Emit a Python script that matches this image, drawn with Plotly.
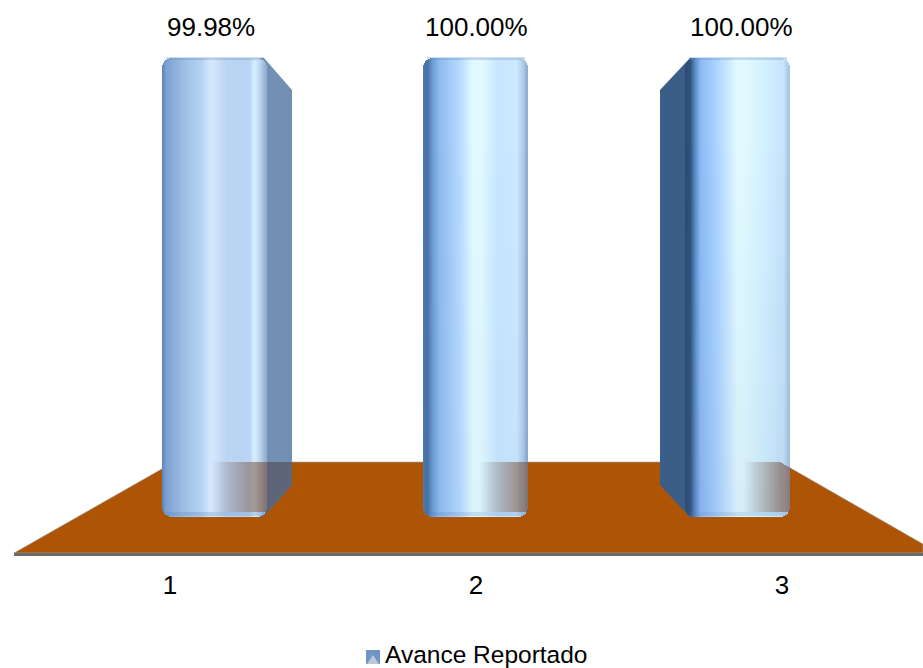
import plotly.graph_objects as go
import numpy as np

categories = ["1", "2", "3"]
values = [99.98, 100.0, 100.0]
series_name = "Avance Reportado"

W, H = 923, 668
L, B_PX = 14, 553      # plot area: left edge and bottom edge, in page pixels
Y0_PX, Y100_PX = 517, 58
PX_PER_VAL = (Y0_PX - Y100_PX) / 100.0
CX = [215, 476, 738]
SPACING = 261.5
BAR_W = 104
R = 10
REFLECT_START = [50, 56, 59]
SHADE_MAX = [0.0, 0.04, 0.07]

def xv(px):  # page px to bar-axis units
    return 2 + (px - CX[1]) / SPACING
def yv(py):
    return (Y0_PX - py) / PX_PER_VAL
def xp(px):  # page px to paper units
    return (px - L) / (W - L)
def yp(py):
    return (B_PX - py) / B_PX

stops = [
    [(0, "#5C84B8"), (.04, "#7BA0D0"), (.2, "#9CBDE4"), (.38, "#B5D2F2"), (.46, "#D4E7FC"), (.52, "#CFE3FA"),
     (.62, "#BAD4F2"), (.84, "#B9D4F4"), (.89, "#D6EFFF"), (.94, "#BFD6EE"), (1, "#8FADCD")],
    [(0, "#4F7DB2"), (.04, "#47709F"), (.09, "#6A9AD6"), (.16, "#8FBBEE"), (.35, "#B5D9FF"), (.48, "#E2FAFF"), (.56, "#E2FAFF"),
     (.72, "#C7E6FF"), (.9, "#CBEAFF"), (.97, "#A9C8E7"), (1, "#8BA9CC")],
    [(0, "#2C4A6F"), (.05, "#30527D"), (.1, "#5F8EC8"), (.15, "#8CBAF5"), (.3, "#A9D3FF"), (.5, "#E2FAFF"), (.56, "#E2FAFF"),
     (.8, "#CFEFFF"), (.95, "#C7E2FA"), (1, "#A5C3E3")],
]

def lerp_color(st, t):
    xs = [s[0] for s in st]
    rgb = [[int(s[1][i:i + 2], 16) for s in st] for i in (1, 3, 5)]
    c = [int(round(np.interp(t, xs, ch))) for ch in rgb]
    return f"rgb({c[0]},{c[1]},{c[2]})"

def inset(d):
    if d >= R:
        return 0.0
    return R - np.sqrt(max(R * R - (R - d) ** 2, 0))

def poly_path(pts):
    return "M " + " L ".join(f"{xv(a)} {yv(b)}" for a, b in pts) + " Z"
def paper_path(pts):
    return "M " + " L ".join(f"{xp(a)} {yp(b)}" for a, b in pts) + " Z"

fig = go.Figure()
FLOOR_C = "#AE5405"
FLOOR_TOP = 462
FL_L = 174; FL_R = 780

shapes = [dict(type="path", xref="x", yref="y", layer="below", fillcolor=FLOOR_C, line=dict(width=0.6, color="#9aa7b5"),
               path=poly_path([(14, 553), (FL_L, FLOOR_TOP), (FL_R, FLOOR_TOP), (923, 544), (923, 553)]))]

# side faces, behind the bars
sides = [
    ([(258, 58), (264, 58), (292, 90), (292, 485), (268, 512), (262, 517), (258, 517)], "#7190B4"),
    ([(696, 58), (690, 58), (660, 90), (660, 485), (685, 512), (690, 517), (696, 517)], "#3A5E88"),
]
for pts, col in sides:
    shapes.append(dict(type="path", xref="x", yref="y", layer="below", fillcolor=col, line=dict(width=0), path=poly_path(pts)))
# darker part of bar 1's side where the floor shows through
shapes.append(dict(type="path", xref="x", yref="y", layer="below", fillcolor="#5D6577", line=dict(width=0),
                   path=poly_path([(258, 462), (292, 462), (292, 485), (268, 512), (262, 517), (258, 517)])))
# legend swatch with its small shading
shapes.append(dict(type="rect", xref="paper", yref="paper", x0=xp(366), x1=xp(380), y0=yp(664), y1=yp(650),
                   fillcolor="#6F95C4", line=dict(width=0)))
shapes.append(dict(type="path", xref="paper", yref="paper", fillcolor="#BCC9D8", line=dict(width=0),
                   path=paper_path([(367, 664), (373, 655), (379, 664)])))

# bars drawn as narrow strips so the cylinder shading comes through
for i, (cat, v) in enumerate(zip(categories, values)):
    left = CX[i] - BAR_W / 2
    off = np.arange(0, BAR_W, 1.0)
    xs, bases, hs, cols = [], [], [], []
    for o in off:
        d = min(o + .5, BAR_W - o - .5)
        ins = inset(d) / PX_PER_VAL
        xs.append(xv(left + o + .5))
        bases.append(ins)
        hs.append(v - 2 * ins)
        cols.append(lerp_color(stops[i], (o + .5) / BAR_W))
    fig.add_trace(go.Bar(x=xs, y=hs, base=bases, width=1.3 / SPACING, marker=dict(color=cols, line=dict(width=0)),
                         hoverinfo="skip", showlegend=False, xaxis="x", yaxis="y"))
    # the shading deepens slowly toward the foot of the bar
    if SHADE_MAX[i] > 0:
        edges = np.linspace(150, 512, 15)
        fig.add_trace(go.Bar(
            x=[xv(CX[i])] * 14,
            base=[yv(b) for b in edges[1:]],
            y=[yv(a) - yv(b) for a, b in zip(edges[:-1], edges[1:])],
            width=BAR_W / SPACING,
            marker=dict(color=[f"rgba(60,90,150,{SHADE_MAX[i] * (k + 1) / 14:.3f})" for k in range(14)], line=dict(width=0)),
            hoverinfo="skip", showlegend=False))
    # bevel at the top and at the bottom
    mx = [x for x, b in zip(xs, bases) if b * PX_PER_VAL < 3]
    fig.add_trace(go.Bar(x=mx, y=[3 / PX_PER_VAL] * len(mx), base=[v - 2 / PX_PER_VAL] * len(mx), width=1.3 / SPACING,
                         marker=dict(color="rgba(95,135,190,0.28)", line=dict(width=0)), hoverinfo="skip", showlegend=False))
    fig.add_trace(go.Bar(x=mx, y=[4 / PX_PER_VAL] * len(mx), base=[0.8 / PX_PER_VAL] * len(mx), width=1.3 / SPACING,
                         marker=dict(color="rgba(70,120,190,0.22)", line=dict(width=0)), hoverinfo="skip", showlegend=False))
    # floor seen through the right part of the bar
    rx, ry, rb, rc = [], [], [], []
    s0 = REFLECT_START[i]
    for o in np.arange(s0, BAR_W, 1.0):
        px = left + o + .5
        t = (o - s0) / (BAR_W - s0)
        top = FLOOR_TOP + max(px - FL_R, 0) * .57
        rx.append(xv(px))
        ry.append(yv(top) - yv(512))
        rb.append(yv(512))
        rc.append(f"rgba(115,65,40,{0.02 + 0.50 * min(t * 1.25, 1):.3f})")
    fig.add_trace(go.Bar(x=rx, y=ry, base=rb, width=1.3 / SPACING, marker=dict(color=rc, line=dict(width=0)),
                         hoverinfo="skip", showlegend=False))

# legend entry (its swatch is the small shaded square drawn above)
fig.add_trace(go.Bar(x=[None], y=[None], name=series_name, marker=dict(color="rgba(0,0,0,0)", line=dict(width=0)), xaxis="x", yaxis="y"))
# category axis carrier
fig.add_trace(go.Scatter(x=[1, 2, 3], y=[0, 0, 0], mode="markers", marker=dict(opacity=0), xaxis="x2", yaxis="y",
                         hoverinfo="skip", showlegend=False))

TICK_SP = 306
TICK_C = 476
fig.update_layout(
    width=W, height=H, autosize=False, margin=dict(l=L, r=0, t=0, b=H - B_PX, pad=0),
    paper_bgcolor="white", plot_bgcolor="rgba(0,0,0,0)", barmode="overlay", bargap=0,
    font=dict(family="Liberation Sans, Arial, sans-serif", color="#000000", size=24),
    xaxis=dict(range=[xv(L), xv(W)], visible=False, fixedrange=True),
    xaxis2=dict(overlaying="x", side="bottom", anchor="y",
                range=[2 + (L - TICK_C) / TICK_SP, 2 + (W - TICK_C) / TICK_SP],
                tickmode="array", tickvals=[1, 2, 3], ticktext=categories, showgrid=False, zeroline=False,
                showline=True, linecolor="#6b6b6b", linewidth=2.5, ticks="outside", ticklen=7, tickcolor="rgba(0,0,0,0)",
                tickfont=dict(size=26, color="#000000")),
    yaxis=dict(range=[yv(B_PX), yv(0)], visible=False, fixedrange=True),
    showlegend=True,
    legend=dict(x=(385 - 40) / W, xref="container", xanchor="left", y=(H - 654) / H, yref="container", yanchor="middle",
                bgcolor="rgba(0,0,0,0)", font=dict(size=24.5), itemwidth=30, orientation="h"),
    shapes=shapes,
    annotations=[dict(x=i + 1, xref="x", y=v, yref="y", text=f"{v:.2f}%", showarrow=False, yanchor="bottom",
                      yshift=14, xshift=s, font=dict(size=26, color="#000000"))
                 for i, (v, s) in enumerate(zip(values, [-4, 0, 4]))],
)
fig.write_html("out.html", post_script="document.body.style.margin='0';", config={"displayModeBar": False})
